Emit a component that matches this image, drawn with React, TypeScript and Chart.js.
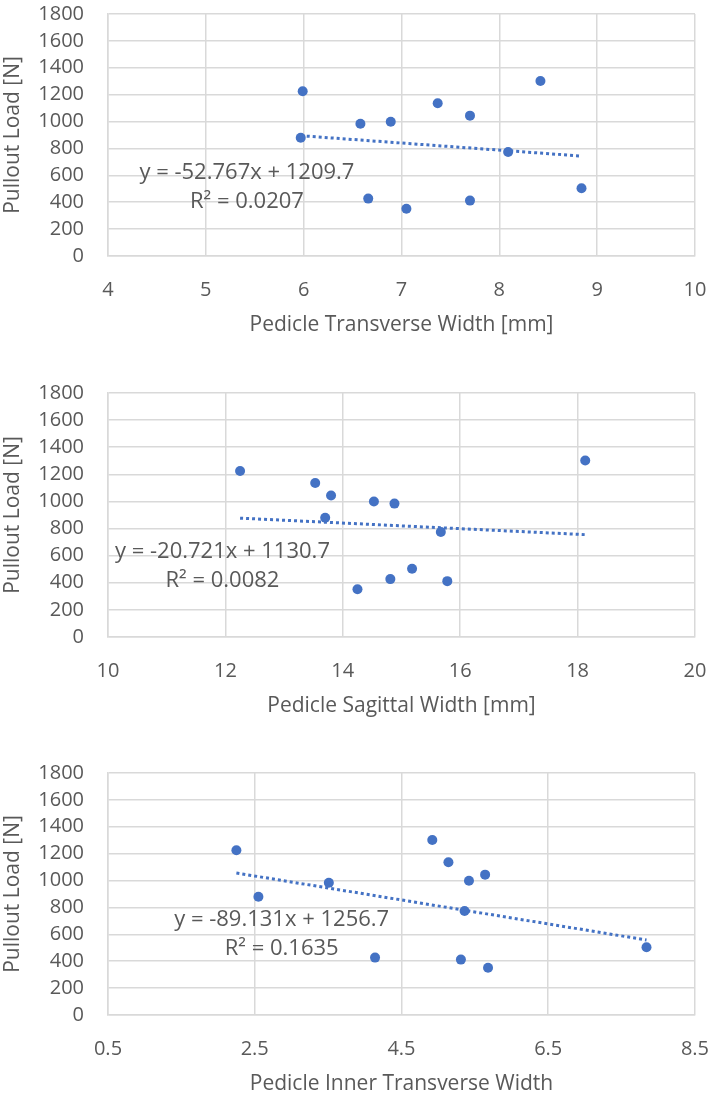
import React, { useEffect, useRef } from 'react';
import { Chart, registerables } from 'chart.js';

Chart.register(...registerables);

// ---------- data ----------
const pulloutLoad = [1225, 880, 984, 999, 1136, 1044, 1302, 774, 504, 427, 352, 412];
const transverseWidth = [5.99, 5.97, 6.58, 6.89, 7.37, 7.7, 8.42, 8.09, 8.84, 6.66, 7.05, 7.7];
const sagittalWidth = [12.25, 13.7, 14.88, 14.53, 13.53, 13.8, 18.13, 15.67, 15.18, 14.81, 14.25, 15.78];
const innerTransverseWidth = [2.25, 2.55, 3.51, 5.42, 5.14, 5.64, 4.92, 5.36, 7.84, 4.14, 5.68, 5.31];

const loadTicks = [0, 200, 400, 600, 800, 1000, 1200, 1400, 1600, 1800];
const transverseTicks = [4, 5, 6, 7, 8, 9, 10];
const sagittalTicks = [10, 12, 14, 16, 18, 20];
const innerTicks = [0.5, 2.5, 4.5, 6.5, 8.5];

const xTitles = ['Pedicle Transverse Width [mm]', 'Pedicle Sagittal Width [mm]', 'Pedicle Inner Transverse Width'];
const yTitle = 'Pullout Load [N]';

const trendSlopes = [-52.767, -20.721, -89.131];
const trendIntercepts = [1209.7, 1130.7, 1256.7];
const trendR2 = ['0.0207', '0.0082', '0.1635'];

// ---------- styling ----------
const FONT = "'Open Sans', 'Noto Sans', sans-serif";
const TEXT = '#595959';
const GRID = '#d9d9d9';
const BLUE = '#4472C4';
const NONE = 'rgba(0,0,0,0)';

type PanelProps = {
  xs: number[];
  xTicks: number[];
  xTitle: string;
  slope: number;
  intercept: number;
  r2: string;
  anchor: { x: number; y: number };
  top: number;
  height: number;
  padBottom: number;
};

function Panel(p: PanelProps) {
  const ref = useRef<HTMLCanvasElement | null>(null);
  useEffect(() => {
    if (!ref.current) return;
    const xmin = Math.min(...p.xs);
    const xmax = Math.max(...p.xs);
    const labelPlugin = {
      id: 'eqLabel',
      afterDraw(chart: any) {
        const ctx = chart.ctx;
        const px = chart.scales.x.getPixelForValue(p.anchor.x);
        const py = chart.scales.y.getPixelForValue(p.anchor.y);
        ctx.save();
        ctx.fillStyle = TEXT;
        ctx.font = `22px ${FONT}`;
        ctx.textAlign = 'center';
        ctx.textBaseline = 'middle';
        const sign = p.intercept >= 0 ? '+' : '-';
        ctx.fillText(`y = ${p.slope}x ${sign} ${Math.abs(p.intercept)}`, px, py);
        ctx.fillText(`R² = ${p.r2}`, px, py + 29);
        ctx.restore();
      },
    };
    const chart = new Chart(ref.current, {
      type: 'scatter',
      data: {
        datasets: [
          {
            data: p.xs.map((x, i) => ({ x, y: pulloutLoad[i] })),
            backgroundColor: BLUE,
            borderColor: BLUE,
            pointRadius: 5,
            pointHoverRadius: 5,
            borderWidth: 0,
          },
          {
            data: [
              { x: xmin, y: p.slope * xmin + p.intercept },
              { x: xmax, y: p.slope * xmax + p.intercept },
            ],
            showLine: true,
            borderColor: BLUE,
            borderWidth: 3,
            borderDash: [3, 3],
            pointRadius: 0,
            fill: false,
          } as any,
        ],
      },
      options: {
        animation: false,
        responsive: false,
        events: [],
        layout: { padding: { top: 14, right: 14, left: 0, bottom: p.padBottom } },
        plugins: { legend: { display: false }, tooltip: { enabled: false } },
        scales: {
          x: {
            type: 'linear',
            min: p.xTicks[0],
            max: p.xTicks[p.xTicks.length - 1],
            afterBuildTicks: (s: any) => {
              s.ticks = p.xTicks.map((v) => ({ value: v }));
            },
            afterFit: (s: any) => {
              s.height = 82;
            },
            grid: { color: GRID, lineWidth: 1.5, drawTicks: true, tickLength: 22, tickColor: NONE },
            border: { color: GRID, width: 1.5 },
            ticks: {
              padding: 0,
              color: TEXT,
              font: { family: FONT, size: 20 },
              maxRotation: 0,
              autoSkip: false,
              callback: (v: any) => String(v),
            },
            title: { display: true, text: p.xTitle, color: TEXT, font: { family: FONT, size: 21 }, padding: 0 },
          },
          y: {
            type: 'linear',
            min: loadTicks[0],
            max: loadTicks[loadTicks.length - 1],
            afterBuildTicks: (s: any) => {
              s.ticks = loadTicks.map((v) => ({ value: v }));
            },
            afterFit: (s: any) => {
              s.width = 108;
            },
            grid: { color: GRID, lineWidth: 1.5, drawTicks: true, tickLength: 24, tickColor: NONE },
            border: { color: GRID, width: 1.5 },
            ticks: {
              padding: 0,
              color: TEXT,
              font: { family: FONT, size: 20 },
              autoSkip: false,
              callback: (v: any) => String(v),
            },
            title: { display: true, text: yTitle, color: TEXT, font: { family: FONT, size: 21 }, padding: 0 },
          },
        },
      } as any,
      plugins: [labelPlugin],
    });
    return () => chart.destroy();
  }, []);
  return (
    <div style={{ position: 'absolute', left: 0, top: p.top, width: 709, height: p.height }}>
      <canvas ref={ref} width={709} height={p.height} style={{ width: 709, height: p.height, display: 'block' }} />
    </div>
  );
}

export default function App() {
  return (
    <div style={{ position: 'absolute', left: 0, top: 0, width: 709, height: 1098, background: '#fff', overflow: 'hidden' }}>
      <Panel
        xs={transverseWidth}
        xTicks={transverseTicks}
        xTitle={xTitles[0]}
        slope={trendSlopes[0]}
        intercept={trendIntercepts[0]}
        r2={trendR2[0]}
        anchor={{ x: 5.42, y: 617 }}
        top={0}
        height={342}
        padBottom={4}
      />
      <Panel
        xs={sagittalWidth}
        xTicks={sagittalTicks}
        xTitle={xTitles[1]}
        slope={trendSlopes[1]}
        intercept={trendIntercepts[1]}
        r2={trendR2[1]}
        anchor={{ x: 11.95, y: 629 }}
        top={379}
        height={344}
        padBottom={4}
      />
      <Panel
        xs={innerTransverseWidth}
        xTicks={innerTicks}
        xTitle={xTitles[2]}
        slope={trendSlopes[2]}
        intercept={trendIntercepts[2]}
        r2={trendR2[2]}
        anchor={{ x: 2.867, y: 709 }}
        top={759}
        height={339}
        padBottom={1}
      />
    </div>
  );
}
